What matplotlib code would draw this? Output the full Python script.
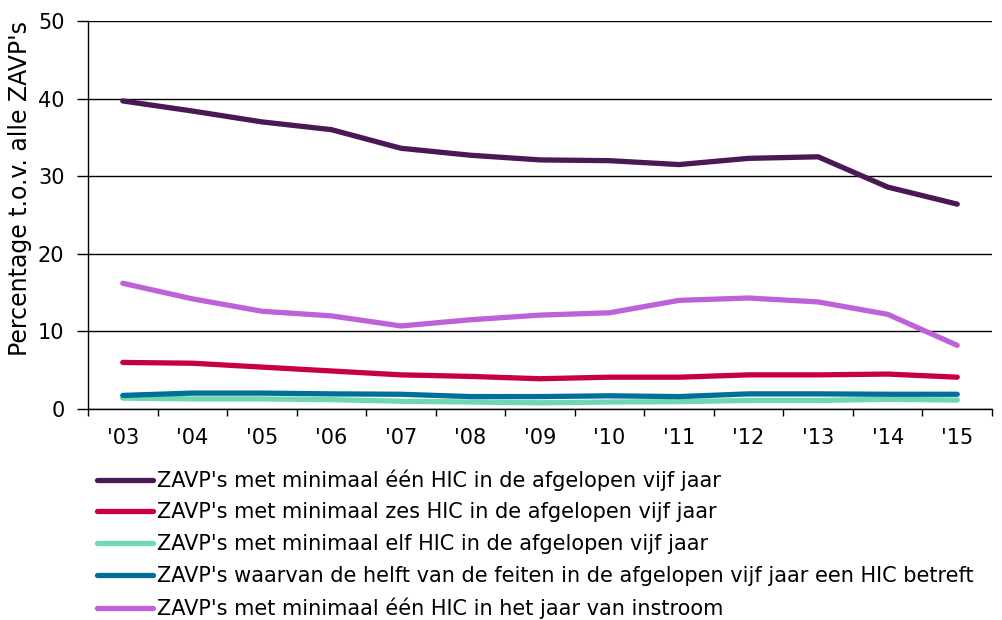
import matplotlib
matplotlib.use('Agg')
import matplotlib.pyplot as plt
import numpy as np

plt.rcParams['font.family'] = ['DejaVu Sans']

# data
years = ["'03", "'04", "'05", "'06", "'07", "'08", "'09", "'10", "'11", "'12", "'13", "'14", "'15"]
een_hic_vijf = [39.7, 38.4, 37.0, 36.0, 33.6, 32.7, 32.1, 32.0, 31.5, 32.3, 32.5, 28.6, 26.4]
zes_hic_vijf = [6.0, 5.9, 5.4, 4.9, 4.4, 4.2, 3.9, 4.1, 4.1, 4.4, 4.4, 4.5, 4.1]
elf_hic_vijf = [1.4, 1.3, 1.3, 1.2, 1.0, 0.9, 0.8, 0.9, 0.95, 1.1, 1.1, 1.25, 1.15]
helft_hic = [1.75, 2.05, 2.05, 1.95, 1.9, 1.6, 1.6, 1.7, 1.6, 1.95, 1.95, 1.9, 1.9]
een_hic_instroom = [16.2, 14.2, 12.6, 12.0, 10.7, 11.5, 12.1, 12.4, 14.0, 14.3, 13.8, 12.2, 8.2]

labels = [
    "ZAVP's met minimaal één HIC in de afgelopen vijf jaar",
    "ZAVP's met minimaal zes HIC in de afgelopen vijf jaar",
    "ZAVP's met minimaal elf HIC in de afgelopen vijf jaar",
    "ZAVP's waarvan de helft van de feiten in de afgelopen vijf jaar een HIC betreft",
    "ZAVP's met minimaal één HIC in het jaar van instroom",
]
colors = ['#4A1757', '#C8003D', '#6FD8AE', '#00709A', '#BE62DA']
series = [een_hic_vijf, zes_hic_vijf, elf_hic_vijf, helft_hic, een_hic_instroom]

fig = plt.figure(figsize=(10.03, 6.2), dpi=100)
ax = fig.add_axes([88 / 1003, 1 - 409 / 620, (992 - 88) / 1003, (409 - 21) / 620])

x = np.arange(len(years))
# small ones first, big lines on top
order = [2, 3, 1, 4, 0]
handles = [None] * 5
for i in order:
    h, = ax.plot(x, series[i], color=colors[i], lw=3.8, solid_capstyle='round',
                 solid_joinstyle='round', label=labels[i], zorder=3)
    handles[i] = h

ax.set_xlim(-0.5, len(years) - 0.5)
ax.set_ylim(0, 50)
ax.set_yticks(range(0, 51, 10))
ax.yaxis.grid(True, color='black', lw=1)
ax.set_axisbelow(True)

ax.set_xticks(x)
ax.set_xticklabels(years)
ax.set_xticks(np.arange(-0.5, len(years), 1), minor=True)
ax.tick_params(axis='x', which='major', length=0, pad=14, labelsize=15)
ax.tick_params(axis='x', which='minor', length=5, width=1, direction='out')
ax.tick_params(axis='y', length=8, width=1, direction='out', labelsize=15, pad=9)

for s in ['top', 'right']:
    ax.spines[s].set_visible(False)
for s in ['left', 'bottom']:
    ax.spines[s].set_color('black')
    ax.spines[s].set_linewidth(1)

ax.set_ylabel("Percentage t.o.v. alle ZAVP's", fontsize=17)
ax.yaxis.set_label_coords(-56 / 904, (409 - 189) / 388)

fig.legend(handles=handles, labels=labels, loc='upper left',
           bbox_to_anchor=(89 / 1003, 1 - 461 / 620), frameon=False, fontsize=15,
           handlelength=2.65, handletextpad=0.2, labelspacing=0.56, borderaxespad=0)

fig.savefig('out.png', dpi=100)
